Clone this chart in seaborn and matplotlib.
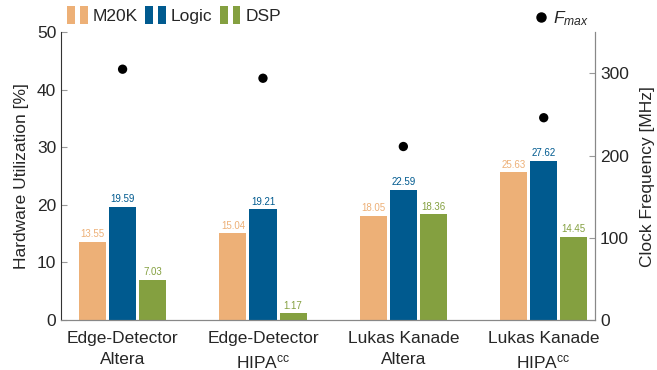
import numpy as np
import pandas as pd
import matplotlib
matplotlib.use("Agg")
import matplotlib.pyplot as plt
from matplotlib.patches import Rectangle
from matplotlib.legend_handler import HandlerBase
from matplotlib.lines import Line2D
import seaborn as sns

categories = ["Edge-Detector\nAltera", "Edge-Detector\nHIPA$^\\mathrm{cc}$",
              "Lukas Kanade\nAltera", "Lukas Kanade\nHIPA$^\\mathrm{cc}$"]
resources = ["M20K", "Logic", "DSP"]
m20k = [13.55, 15.04, 18.05, 25.63]
logic = [19.59, 19.21, 22.59, 27.62]
dsp = [7.03, 1.17, 18.36, 14.45]
fmax = [305, 294, 211, 246]
colors = ["#EDB077", "#005A8F", "#84A040"]

sns.set_style("ticks")
plt.rcParams["font.family"] = ["Liberation Sans", "DejaVu Sans"]
plt.rcParams["mathtext.fontset"] = "custom"
plt.rcParams["mathtext.rm"] = "Liberation Sans"
plt.rcParams["mathtext.it"] = "Liberation Sans:italic"

df = pd.DataFrame({
    "cat": categories * 3,
    "res": [r for r in resources for _ in categories],
    "val": m20k + logic + dsp,
})

fig = plt.figure(figsize=(6.57, 3.70), dpi=100)
ax = fig.add_axes([0.093, 0.135, 0.813, 0.778])

sns.barplot(data=df, x="cat", y="val", hue="res", hue_order=resources,
            palette=colors, width=0.643, gap=0.1, ax=ax, legend=False,
            saturation=1, edgecolor="none")
for cont, c in zip(ax.containers, colors):
    ax.bar_label(cont, fmt="%.2f", color=c, fontsize=7, padding=2)

ax.set_xlim(-0.438, 3.367)
ax.set_ylim(0, 50)
ax.set_yticks(range(0, 51, 10))
ax.set_xlabel("")
ax.set_ylabel("Hardware Utilization [%]", fontsize=12.5, labelpad=6)
ax.tick_params(axis="y", direction="in", length=4, color="#999999", labelsize=12.5)
ax.tick_params(axis="x", length=0, labelsize=12.5, pad=8)
for t in ax.get_xticklabels():
    t.set_linespacing(1.45)

ax2 = ax.twinx()
sns.scatterplot(x=np.arange(len(fmax)), y=fmax, ax=ax2, color="black",
                s=45, edgecolor="none", zorder=5)
ax2.set_ylim(0, 350)
ax2.set_yticks([0, 100, 200, 300])
ax2.set_ylabel("Clock Frequency [MHz]", fontsize=12.5, labelpad=8)
ax2.tick_params(axis="y", direction="in", length=4, color="#999999", labelsize=12.5)

for a in (ax, ax2):
    a.spines["top"].set_visible(False)
    a.spines["bottom"].set_color("#888888")
    a.spines["right"].set_color("#888888")
    a.spines["left"].set_color("#333333")
ax2.spines["left"].set_visible(False)


class TwoBars(HandlerBase):
    def create_artists(self, legend, orig_handle, xdescent, ydescent,
                       width, height, fontsize, trans):
        w = width * 0.38
        fc = orig_handle.get_facecolor()
        r1 = Rectangle((-xdescent, -ydescent - 2), w, height + 4,
                       facecolor=fc, edgecolor="none", transform=trans)
        r2 = Rectangle((-xdescent + width * 0.62, -ydescent - 2), w, height + 4,
                       facecolor=fc, edgecolor="none", transform=trans)
        return [r1, r2]


handles = [Rectangle((0, 0), 1, 1, facecolor=c) for c in colors]
fig.legend(handles, resources, loc="upper left", bbox_to_anchor=(0.078, 1.018),
           ncol=3, frameon=False, fontsize=12.5, handlelength=1.2,
           handletextpad=0.3, columnspacing=0.4,
           handler_map={Rectangle: TwoBars()})
fh = Line2D([], [], marker="o", color="black", linestyle="none", markersize=6.5)
fig.legend([fh], ["$F_{max}$"], loc="upper right", bbox_to_anchor=(0.92, 1.018),
           frameon=False, fontsize=12.5, handlelength=0.8, handletextpad=0.3)

fig.savefig("out.png", dpi=100)
